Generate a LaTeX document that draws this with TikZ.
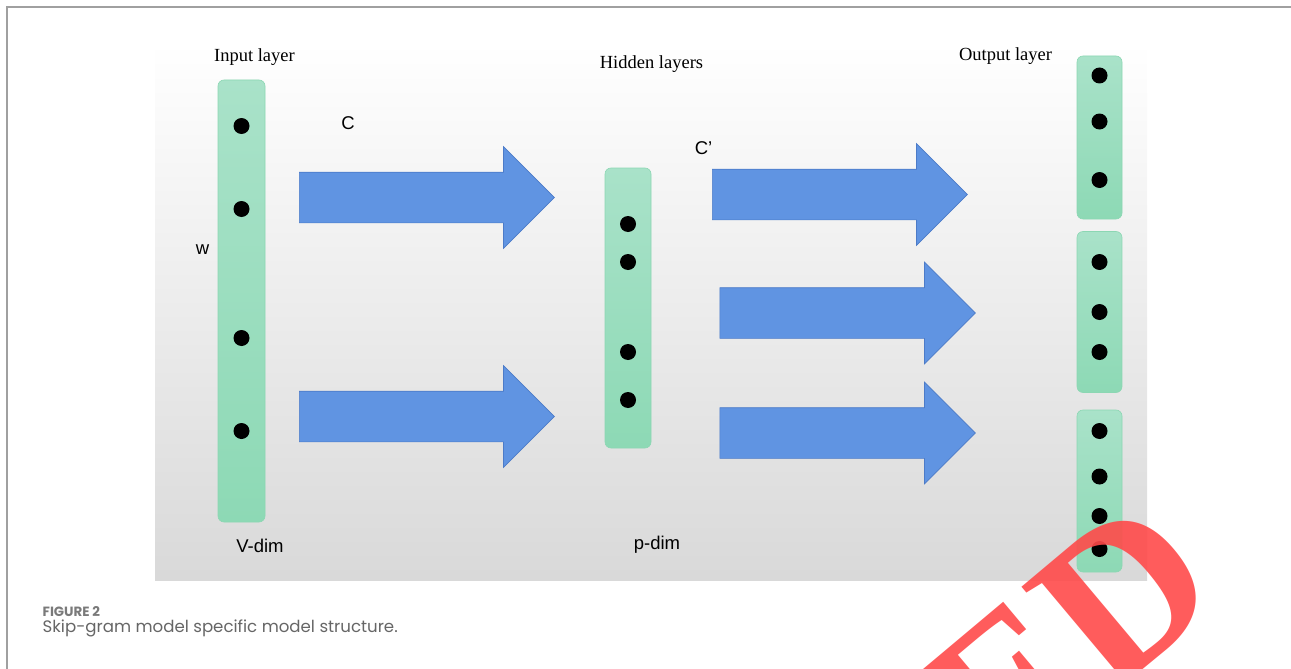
\documentclass[tikz,border=0pt]{standalone}
\usepackage{fontspec}
\setmainfont{Liberation Serif}
\newfontfamily\labelfont{Liberation Sans}
\newfontfamily\capfont{Poppins}
\usetikzlibrary{shapes.arrows}
\definecolor{bartop}{HTML}{A9E2C9}
\definecolor{barbottom}{HTML}{8DD9B5}
\definecolor{barline}{HTML}{8CD7B3}
\definecolor{arrowblue}{HTML}{6094E2}
\definecolor{arrowline}{HTML}{4C7BC8}
\definecolor{framegray}{HTML}{A0A0A0}
\definecolor{capgray}{HTML}{666666}
\definecolor{numgray}{HTML}{7A7A7A}
\definecolor{stamp}{HTML}{FF4A4A}
\tikzset{
  layerbar/.style={rounded corners=6pt, top color=bartop, bottom color=barbottom,
    draw=barline, line width=0.6pt, inner sep=0pt},
  unit/.style={circle, fill=black, inner sep=0pt, minimum size=16pt},
  weights/.style={single arrow, fill=arrowblue, draw=arrowline, line width=0.7pt,
    inner sep=25pt, minimum width=101pt, minimum height=255pt,
    single arrow head extend=25.5pt, anchor=tail},
  title/.style={font=\fontsize{18.5}{20}\selectfont, inner sep=0pt},
  dimlabel/.style={font=\labelfont\fontsize{18.5}{20}\selectfont, inner sep=0pt}
}
\begin{document}
\begin{tikzpicture}[x=1pt,y=-1pt]
  \useasboundingbox (0,0) rectangle (1291,669);
  \draw[framegray, line width=1.5pt] (7,669) -- (7,7) -- (1291,7);
  \shade[top color=white, bottom color=black!15] (155,43) rectangle (1147,580);

  % layers
  \node[layerbar, minimum width=47pt, minimum height=442pt] (input) at (241.5,301) {};
  \node[layerbar, minimum width=46pt, minimum height=280pt] (hidden) at (628,308) {};
  \node[layerbar, minimum width=45pt, minimum height=163pt] (out1) at (1099.5,137.5) {};
  \node[layerbar, minimum width=45pt, minimum height=161pt] (out2) at (1099.5,312) {};
  \node[layerbar, minimum width=45pt, minimum height=162pt] (out3) at (1099.5,491) {};

  % units
  \draw
    (241.5,126) node[unit] (i1){}
    (241.5,209) node[unit] (i2){}
    (241.5,338) node[unit] (i3){}
    (241.5,431) node[unit] (i4){}
    (628,224) node[unit] (h1){}
    (628,262) node[unit] (h2){}
    (628,352) node[unit] (h3){}
    (628,400) node[unit] (h4){}
    (1099.5,75.5) node[unit] (o1){}
    (1099.5,121.5) node[unit] (o2){}
    (1099.5,180) node[unit] (o3){}
    (1099.5,262) node[unit] (o4){}
    (1099.5,312) node[unit] (o5){}
    (1099.5,352) node[unit] (o6){}
    (1099.5,431) node[unit] (o7){}
    (1099.5,476.5) node[unit] (o8){}
    (1099.5,516) node[unit] (o9){}
    (1099.5,549) node[unit] (o10){};

  % weight arrows
  \node[weights] (c1) at (299,197.5) {};
  \node[weights] (c2) at (299,416.5) {};
  \node[weights] (c3) at (712,194.5) {};
  \node[weights, minimum height=255.5pt] (c4) at (719.5,313) {};
  \node[weights, minimum height=255.5pt] (c5) at (719.5,433) {};

  % labels
  \node[title] (inlabel) at (254.5,57) {Input layer};
  \node[title] (hidlabel) at (651.5,64.5) {Hidden layers};
  \node[title] (outlabel) at (1005.5,56) {Output layer};
  \node[dimlabel] (clabel) at (348,123) {C};
  \node[dimlabel] (cplabel) at (703.5,148) {C’};
  \node[dimlabel] (wlabel) at (202.5,250) {w};
  \node[dimlabel] (vdim) at (260,546) {V-dim};
  \node[dimlabel] (pdim) at (657,545) {p-dim};

  % caption
  \node[anchor=base west, inner sep=0pt, text=numgray,
    font=\capfont\bfseries\fontsize{13.4}{15}\selectfont] (fignum) at (42.5,616) {FIGURE 2};
  \node[anchor=base west, inner sep=0pt, text=capgray,
    font=\capfont\fontsize{16.6}{18}\selectfont] (caption) at (42.5,632.7)
    {Skip-gram model specific model structure.};

  % stamp
  \begin{scope}
    \clip (0,0) rectangle (1291,669);
    \node[anchor=base east, inner sep=0pt, rotate=40, text=stamp, opacity=0.9,
      font=\bfseries\fontsize{215}{215}\selectfont] (stampword) at (1229,597) {RETRACTED};
  \end{scope}
\end{tikzpicture}
\end{document}
